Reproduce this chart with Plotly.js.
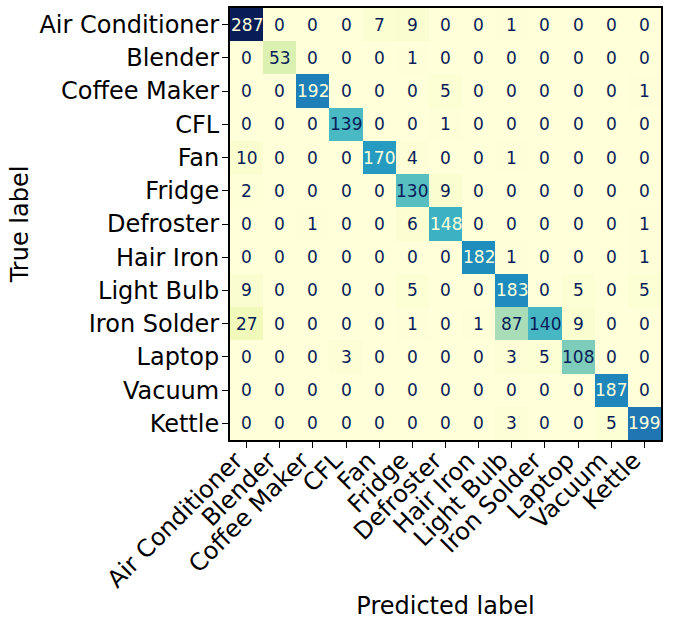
<!DOCTYPE html>
<html>
<head>
<meta charset="utf-8">
<script src="https://cdn.plot.ly/plotly-3.0.1.min.js"></script>
<style>html,body{margin:0;padding:0;background:#fff;}</style>
</head>
<body>
<div id="chart" style="width:675px;height:620px;"></div>
<script>
var labels = ["Air Conditioner","Blender","Coffee Maker","CFL","Fan","Fridge","Defroster","Hair Iron","Light Bulb","Iron Solder","Laptop","Vacuum","Kettle"];
var matrix = [
  [287,0,0,0,7,9,0,0,1,0,0,0,0],
  [0,53,0,0,0,1,0,0,0,0,0,0,0],
  [0,0,192,0,0,0,5,0,0,0,0,0,1],
  [0,0,0,139,0,0,1,0,0,0,0,0,0],
  [10,0,0,0,170,4,0,0,1,0,0,0,0],
  [2,0,0,0,0,130,9,0,0,0,0,0,0],
  [0,0,1,0,0,6,148,0,0,0,0,0,1],
  [0,0,0,0,0,0,0,182,1,0,0,0,1],
  [9,0,0,0,0,5,0,0,183,0,5,0,5],
  [27,0,0,0,0,1,0,1,87,140,9,0,0],
  [0,0,0,3,0,0,0,0,3,5,108,0,0],
  [0,0,0,0,0,0,0,0,0,0,0,187,0],
  [0,0,0,0,0,0,0,0,3,0,0,5,199]
];

var ylgnbu = [
  [0.0,"#ffffd9"],[0.125,"#edf8b1"],[0.25,"#c7e9b4"],[0.375,"#7fcdbb"],
  [0.5,"#41b6c4"],[0.625,"#1d91c0"],[0.75,"#225ea8"],[0.875,"#253494"],[1.0,"#081d58"]
];

var zmax = 0, zmin = Infinity;
matrix.forEach(function(r){ r.forEach(function(v){ if(v>zmax) zmax=v; if(v<zmin) zmin=v; }); });
var thresh = (zmax + zmin) / 2;

var annotations = [];
for (var i = 0; i < labels.length; i++) {
  for (var j = 0; j < labels.length; j++) {
    var v = matrix[i][j];
    annotations.push({
      x: j, y: i, xref: "x", yref: "y", text: String(v), showarrow: false,
      font: {family: "DejaVu Sans", size: 17, color: v > thresh ? "#ffffd9" : "#081d58"}
    });
  }
}

var trace = {
  type: "heatmap",
  z: matrix,
  x: labels.map(function(_, k){ return k; }),
  y: labels.map(function(_, k){ return k; }),
  colorscale: ylgnbu,
  zmin: zmin, zmax: zmax,
  showscale: false,
  hoverinfo: "skip",
  xgap: 0, ygap: 0
};

var idx = labels.map(function(_, k){ return k; });
var axisCommon = {
  tickmode: "array",
  tickvals: idx,
  ticks: "outside", ticklen: 6, tickwidth: 1, tickcolor: "#000",
  showline: true, linecolor: "#000", linewidth: 2, mirror: true,
  showgrid: false, zeroline: false,
  tickfont: {family: "DejaVu Sans", size: 24, color: "#000"}
};

var layout = {
  width: 675, height: 620,
  margin: {l: 230, r: 14, t: 8, b: 180},
  paper_bgcolor: "#fff", plot_bgcolor: "#fff",
  font: {family: "DejaVu Sans", color: "#000"},
  xaxis: Object.assign({}, axisCommon, {
    range: [-0.5, labels.length - 0.5],
    ticktext: labels.map(function(s){ return s + "\u00a0\u00a0"; }),
    tickangle: -45,
    ticklabelstandoff: -22,
    title: {text: "Predicted label", font: {family: "DejaVu Sans", size: 24, color: "#000"}, standoff: 16}
  }),
  yaxis: Object.assign({}, axisCommon, {
    range: [labels.length - 0.5, -0.5],
    ticktext: labels,
    ticklabelstandoff: -2,
    title: {text: "True label", font: {family: "DejaVu Sans", size: 24, color: "#000"}, standoff: 4}
  }),
  annotations: annotations
};

Plotly.newPlot("chart", [trace], layout, {displayModeBar: false, staticPlot: true});
</script>
</body>
</html>
